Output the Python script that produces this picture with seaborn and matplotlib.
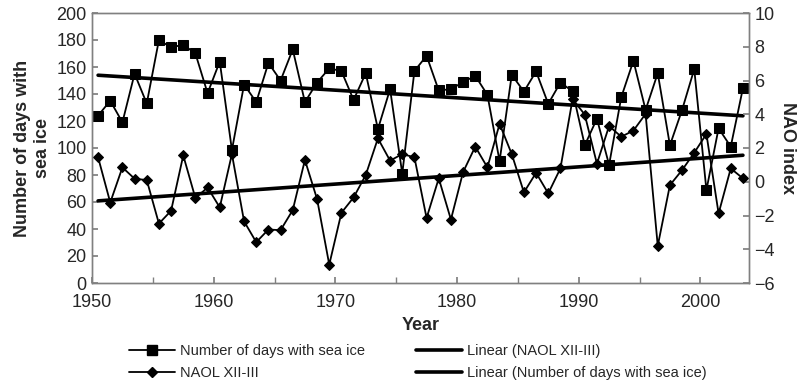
import numpy as np
import pandas as pd
import matplotlib
matplotlib.use("Agg")
import matplotlib.pyplot as plt
import seaborn as sns
from matplotlib.lines import Line2D

# ---- data ----
winters = list(range(1951, 2005))  # winter season (Dec-Mar) ending in this year
ice_days = [124, 135, 119, 155, 133, 180, 174.5, 176.5, 170, 140.6, 164, 98.5, 147,
            134, 163, 150, 173, 134, 148.5, 159, 157, 135.6, 155.4, 114, 143.6, 81, 157, 168.3,
            142.6, 143.6, 148.8, 153.5, 139.4, 90.3, 154.2, 141.8, 156.7, 132.7, 148.5, 142, 102, 121.7, 87.5,
            137.6, 164.6, 128.2, 155.4, 102, 128.2, 158.4, 68.8, 114.6, 101, 144.3]
naol = [1.45, -1.23, 0.85, 0.18, 0.10, -2.48, -1.72, 1.56, -0.97, -0.34, -1.52, 1.64, -2.35,
        -3.58, -2.83, -2.87, -1.68, 1.29, -1.03, -4.91, -1.84, -0.93, 0.40, 2.57, 1.25, 1.64, 1.45, -2.15,
        0.20, -2.24, 0.57, 2.08, 0.85, 3.43, 1.64, -0.63, 0.53, -0.69, 0.79, 4.9, 3.98, 1.07, 3.3,
        2.67, 3.03, 4.02, -3.8, -0.2, 0.69, 1.72, 2.83, -1.88, 0.79, 0.2]

lab_ice = "Number of days with sea ice"
lab_nao = "NAOL XII-III"
lab_lin_nao = "Linear (NAOL XII-III)"
lab_lin_ice = "Linear (Number of days with sea ice)"

df = pd.DataFrame({"winter": winters, "ice": ice_days, "nao": naol})
df["x"] = df["winter"] - 0.5  # plotted at mid-winter

sns.set_theme(style="white")
plt.rcParams["font.family"] = ["Liberation Sans", "DejaVu Sans"]

fig = plt.figure(figsize=(8.03, 3.84), dpi=100)
ax = fig.add_axes([92 / 803, 1 - 283 / 384, (749 - 92) / 803, (283 - 13) / 384])
ax2 = ax.twinx()

# trend lines
sns.regplot(data=df, x="x", y="ice", ax=ax, scatter=False, ci=None, truncate=True,
            line_kws=dict(color="black", lw=2.6))
sns.regplot(data=df, x="x", y="nao", ax=ax2, scatter=False, ci=None, truncate=True,
            line_kws=dict(color="black", lw=2.6))

# series
sns.lineplot(data=df, x="x", y="ice", ax=ax, color="black", lw=1.3, marker="s",
             markersize=7, markeredgecolor="black", markerfacecolor="black", legend=False)
sns.lineplot(data=df, x="x", y="nao", ax=ax2, color="black", lw=1.3, marker="D",
             markersize=5.5, markeredgecolor="black", markerfacecolor="black", legend=False)

ax.set_xlim(1950, 2004)
ax.set_ylim(0, 200)
ax2.set_ylim(-6, 10)
ax.set_yticks(np.arange(0, 201, 20))
ax2.set_yticks(np.arange(-6, 11, 2))
ax.set_xticks(np.arange(1950, 2001, 10))
ax.set_xticks(np.arange(1955, 2004, 10), minor=True)

for a in (ax, ax2):
    for s in a.spines.values():
        s.set_color("#808080")
        s.set_linewidth(1.0)
    a.grid(False)

ax.tick_params(axis="x", which="both", direction="in", length=4, color="#808080",
               labelsize=13, pad=8, bottom=True)
ax.tick_params(axis="y", direction="in", length=4, color="#808080", labelsize=13, left=True, pad=4)
ax2.tick_params(axis="y", direction="in", length=4, color="#808080", labelsize=13, right=True, pad=4)

ax.set_xlabel("Year", fontsize=13, fontweight="bold", labelpad=4)
ax.set_ylabel("Number of days with\nsea ice", fontsize=13, fontweight="bold", labelpad=4)
ax2.set_ylabel("NAO index", fontsize=13, fontweight="bold", rotation=270, labelpad=15)

handles = [
    Line2D([], [], color="black", lw=1.3, marker="s", markersize=7),
    Line2D([], [], color="black", lw=1.3, marker="D", markersize=5.5),
    Line2D([], [], color="black", lw=2.6),
    Line2D([], [], color="black", lw=2.6),
]
labels = [lab_ice, lab_nao, lab_lin_nao, lab_lin_ice]
fig.legend(handles, labels, ncol=2, loc="lower center", bbox_to_anchor=(0.52, -0.025),
           frameon=False, fontsize=10.5, handlelength=3.2, handletextpad=0.3,
           columnspacing=3.5, labelspacing=0.55)

fig.savefig("out.png", dpi=100)
